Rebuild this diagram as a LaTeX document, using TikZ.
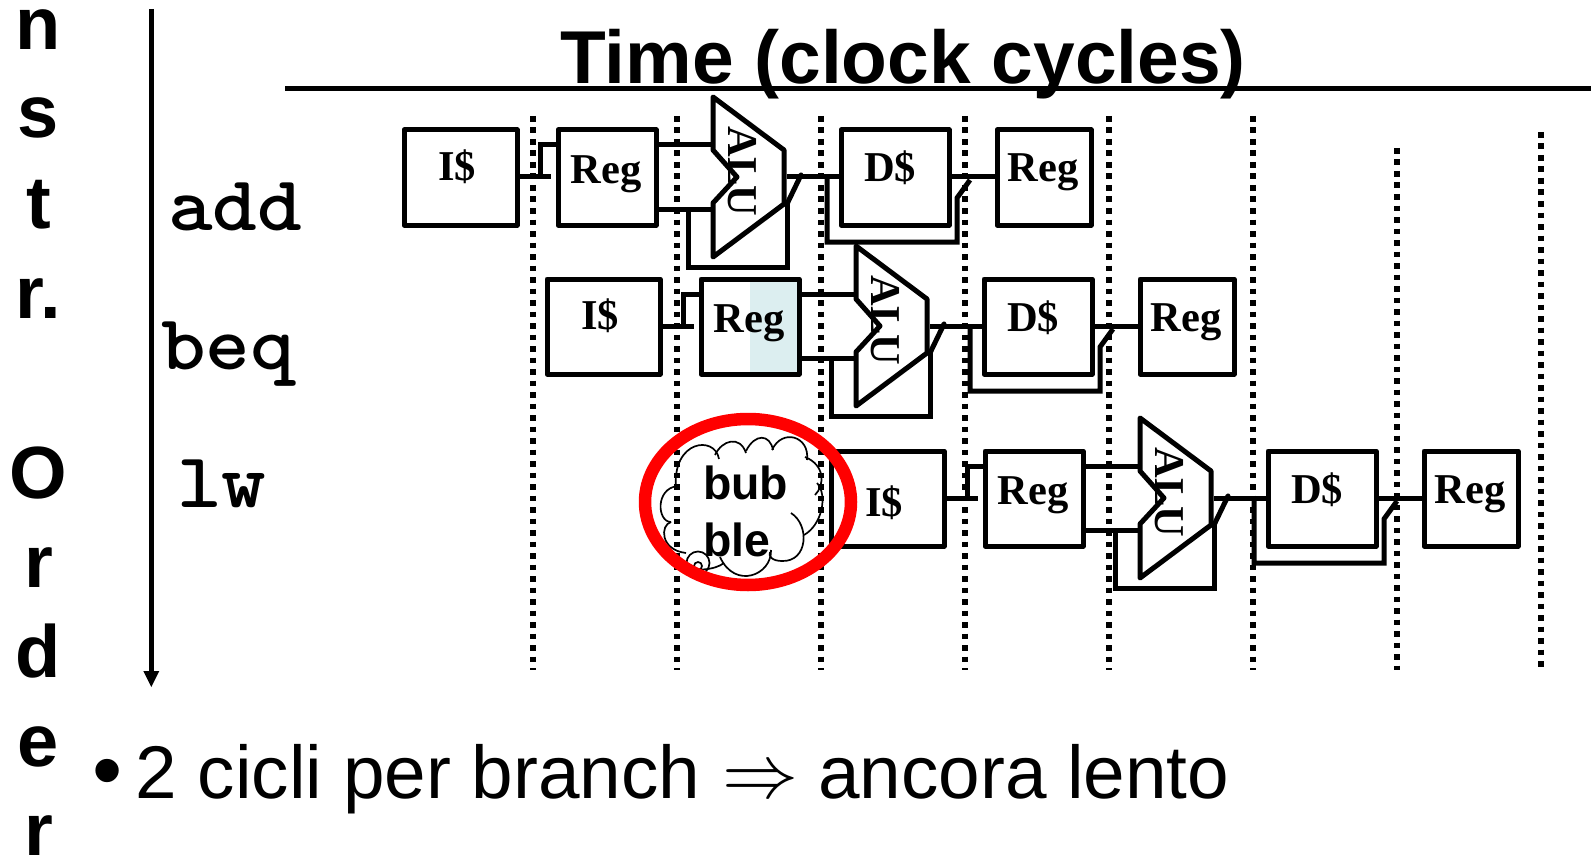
\documentclass[tikz,border=0pt]{standalone}
\usepackage{fontspec}
\setmainfont{Liberation Sans}
\newfontfamily\timesf{Liberation Serif}
\usetikzlibrary{calc}
\definecolor{regshade}{RGB}{220,238,240}
\tikzset{
 x=1pt,y=-1pt,
 box/.style={draw,line width=5pt,line join=round,inner sep=0pt,rectangle},
 wire/.style={line width=5pt,line join=miter},
 dots/.style={line width=5.4pt,dash pattern=on 5.6pt off 5.9pt},
 boxlab/.style={font=\timesf\bfseries\fontsize{42.5}{42.5}\selectfont,inner sep=0pt,anchor=base},
 big/.style={font=\bfseries\fontsize{74.9}{74.9}\selectfont,inner sep=0pt,anchor=base},
 side/.style={font=\bfseries\fontsize{74}{74}\selectfont,inner sep=0pt,anchor=base},
 instr/.style={font=\ttfamily\bfseries\fontsize{78}{78}\selectfont,xscale=1.09,inner sep=0pt,anchor=base west},
 body/.style={font=\fontsize{74.7}{74.7}\selectfont,inner sep=0pt,anchor=base west},
 cloudline/.style={line width=1.7pt},
 bubtext/.style={font=\bfseries\fontsize{46.4}{46.4}\selectfont,inner sep=0pt,anchor=base west},
}
\newcommand{\stage}[4]{% prefix dx dy i-label-dy
\begin{scope}[shift={(#2,#3)}]
 \node[box,minimum width=113pt,minimum height=95pt] (#1i) at (460.5,177.5) {};
 \node[boxlab] (#1il) at (457,#4+182) {I\$};
 \node[box,minimum width=98pt,minimum height=95pt] (#1r) at (607,177.5) {};
 \node[boxlab] (#1rl) at (606,183) {Reg};
 \node[boxlab,rotate=-90,anchor=base] (#1al) at (728,171.5) {ALU};
 \coordinate (#1a1) at (713,97);
 \coordinate (#1a2) at (784,150);
 \coordinate (#1a3) at (784,204);
 \coordinate (#1a4) at (713,257);
 \coordinate (#1a5) at (713,203);
 \coordinate (#1a6) at (737,177);
 \coordinate (#1a7) at (713,150);
 \draw[line width=5pt,line join=round] (#1a1)--(#1a2)--(#1a3)--(#1a4)--(#1a5)--(#1a6)--(#1a7)--cycle;
 \node[box,minimum width=108pt,minimum height=95pt] (#1d) at (895,177.5) {};
 \node[boxlab] (#1dl) at (890,182) {D\$};
 \node[box,minimum width=94pt,minimum height=95pt] (#1s) at (1044,177.5) {};
 \node[boxlab] (#1sl) at (1043,182) {Reg};
 \draw[wire] (#1i.east |- 0,177) -- (551,177);
 \draw[wire] (540,177) -- (540,145) -- (#1r.west |- 0,145);
 \draw[wire] (#1r.east |- 0,145) -- (#1a7 |- 0,145);
 \draw[wire] (#1r.east |- 0,209) -- (#1a5 |- 0,209);
 \draw[wire] (688,209) -- (688,267) -- (787,267) -- (787,204);
 \draw[wire,line cap=round] (787,204) -- (801,175);
 \draw[wire] (787,177) -- (#1d.west |- 0,177);
 \draw[wire] (827,177) -- (827,242) -- (957,242) -- (957,198) -- (970,180);
 \draw[wire] (#1d.east |- 0,177) -- (#1s.west |- 0,177);
\end{scope}}
\begin{document}
\begin{tikzpicture}
\useasboundingbox (0,0) rectangle (1591,856);
\fill[white] (0,0) rectangle (1591,856);
% dotted lines
\coordinate (d1a) at (533,116); \coordinate (d1b) at (533,670);
\coordinate (d2a) at (677,116); \coordinate (d2b) at (677,670);
\coordinate (d3a) at (821,116); \coordinate (d3b) at (821,670);
\coordinate (d4a) at (965,116); \coordinate (d4b) at (965,670);
\coordinate (d5a) at (1109,116); \coordinate (d5b) at (1109,670);
\coordinate (d6a) at (1253,116); \coordinate (d6b) at (1253,670);
\coordinate (d7a) at (1397,148); \coordinate (d7b) at (1397,670);
\coordinate (d8a) at (1541,132); \coordinate (d8b) at (1541,670);
\foreach \i in {1,...,8} \draw[dots] (d\i a) -- (d\i b);
% title
\node[big] (title) at (903,84) {Time (clock cycles)};
\coordinate (hl) at (285,89); \coordinate (hr) at (1591,89);
\draw[line width=5pt] (hl) -- (hr);
% axis
\coordinate (axt) at (151.3,9); \coordinate (axb) at (151.3,674);
\draw[line width=5pt] (axt) -- (axb);
\fill (143.3,671) -- (159.3,671) -- (151.3,687) -- cycle;
% side letters
\node[side] (s1) at (38.5,50) {n};
\node[side] (s2) at (38.5,138) {s};
\node[side] (s3) at (38.5,228) {t};
\node[side] (s4) at (38.5,318) {r.};
\node[side] (s5) at (38.5,498) {O};
\node[side] (s6) at (38.5,587) {r};
\node[side] (s7) at (38.5,677) {d};
\node[side] (s8) at (38.5,766) {e};
\node[side] (s9) at (38.5,855.5) {r};
% instruction labels
\node[instr] (i1) at (168,230) {add};
\node[instr] (i2) at (161,369) {beq};
\node[instr] (i3) at (177,507) {lw};
% shaded part of Reg in row 2
\fill[regshade] (750,281) rectangle (797,372);
% stages
\stage{a}{0}{0}{-1}
\stage{b}{143}{149}{-2}
\stage{c}{427}{321}{13}
% cloud
\begin{scope}[cloudline]
\draw (676,488) .. controls (672,440) and (715,435) .. (719,459);
\draw (715,455) .. controls (722,440) and (740,435) .. (746,453);
\draw (746,451) .. controls (755,433) and (770,434) .. (773,450);
\draw (772,450) .. controls (782,428) and (810,436) .. (807,460);
\draw (805,457) .. controls (825,465) and (825,485) .. (815,495);
\draw (817,483) .. controls (828,495) and (822,525) .. (804,535);
\draw (791,513) .. controls (810,525) and (808,562) .. (782,561) .. controls (772,561) and (768,556) .. (770,552);
\draw (771,550) .. controls (772,575) and (735,590) .. (720,557);
\draw (724,563) .. controls (715,570) and (695,572) .. (680,566);
\draw (678,486) .. controls (655,488) and (657,522) .. (671,522);
\draw (671,522) .. controls (660,525) and (660,550) .. (686,553);
\draw (698,563) circle[radius=11.5];
\draw (698,566) circle[radius=4];
\end{scope}
% bubble text
\node[bubtext] (bub) at (703,499) {bub};
\node[bubtext] (ble) at (703,556) {ble};
% red ellipse
\draw[red,line width=12.5pt] (748,502) ellipse[x radius=103,y radius=83];
% bottom text
\node[font=\fontsize{86}{86}\selectfont,inner sep=0pt,anchor=base west] (bl) at (92,799) {•};
\node[body] (t1) at (135.5,798) {2 cicli per branch};
\node[inner sep=0pt,scale=7.6] (arr) at (760,784) {$\Rightarrow$};
\node[body] (t2) at (818,798) {ancora lento};
\end{tikzpicture}
\end{document}
